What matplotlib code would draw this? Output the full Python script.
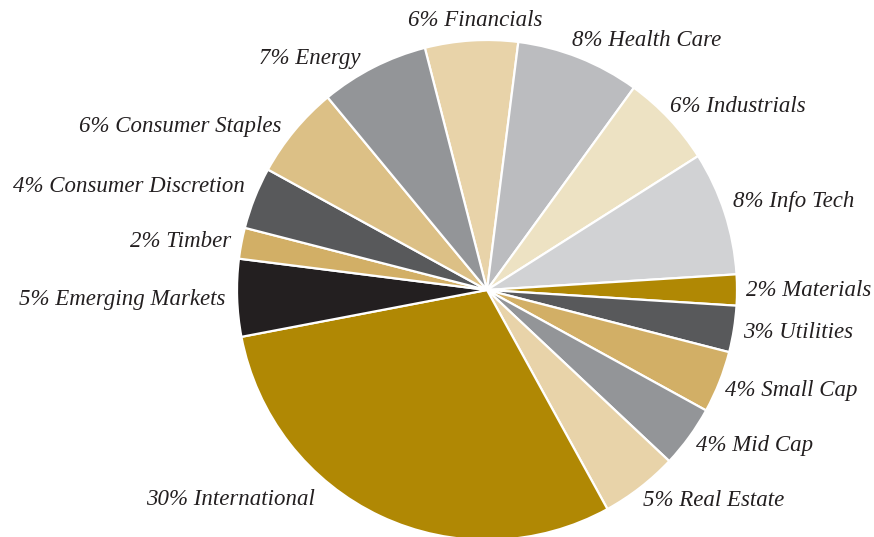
import matplotlib.pyplot as plt

# allocation by sector, clockwise from the top
sectors = ["Financials", "Health Care", "Industrials", "Info Tech", "Materials",
           "Utilities", "Small Cap", "Mid Cap", "Real Estate", "International",
           "Emerging Markets", "Timber", "Consumer Discretion", "Consumer Staples",
           "Energy"]
weights = [6, 8, 6, 8, 2, 3, 4, 4, 5, 30, 5, 2, 4, 6, 7]

colors = ["#E8D3A9", "#BBBCBF", "#EDE2C3", "#D1D2D4", "#B08804",
          "#58595B", "#D2AF66", "#939598", "#E8D3A9", "#B08804",
          "#231F20", "#D2AF66", "#58595B", "#DCC086", "#939598"]

# label anchors in pixels (x, baseline y, alignment)
label_pos = [(475, 26, "center"), (572, 46, "left"), (670, 112, "left"),
             (733, 207, "left"), (746, 296, "left"), (743, 338, "left"),
             (725, 396, "left"), (696, 451, "left"), (643, 506, "left"),
             (315, 505, "right"), (225, 305, "right"), (231, 247, "right"),
             (245, 192, "right"), (281, 132, "right"), (360, 64, "right")]

W, H = 874, 537
cx, cy, R = 487, 290, 250

fig = plt.figure(figsize=(W / 100, H / 100), dpi=100)
ax = fig.add_axes([0, 0, 1, 1])

ax.pie(weights, colors=colors, startangle=104.4, counterclock=False,
       radius=1.0, wedgeprops=dict(edgecolor="white", linewidth=1.6))

# pie() resets the limits, so set them afterwards
ax.set_xlim(-cx / R, (W - cx) / R)
ax.set_ylim(-(H - cy) / R, cy / R)
ax.set_aspect("equal")
ax.axis("off")

for name, w, (px, py, ha) in zip(sectors, weights, label_pos):
    ax.text((px - cx) / R, (cy - py) / R, f"{w}% {name}", ha=ha, va="baseline",
            fontsize=16.5, fontstyle="italic", family="Liberation Serif",
            color="#231F20")

fig.savefig("out.png", dpi=100)
